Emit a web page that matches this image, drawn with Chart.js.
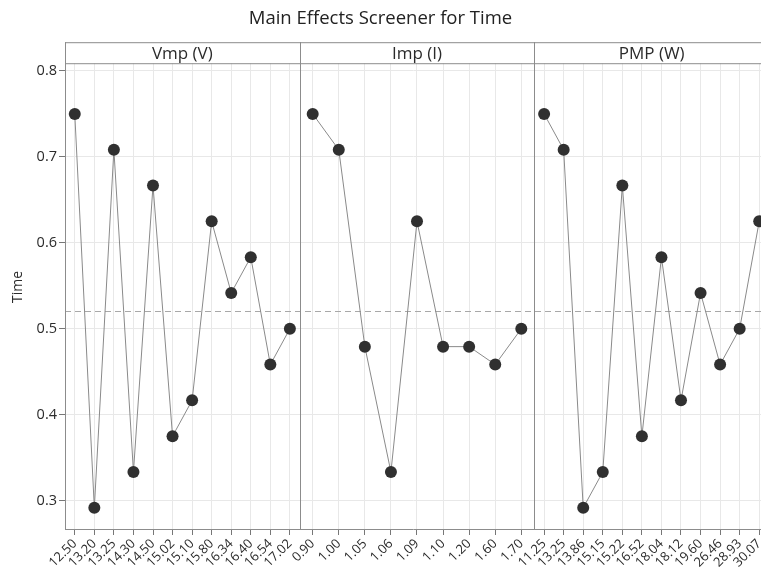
<!DOCTYPE html>
<html>
<head>
<meta charset="utf-8">
<script src="https://cdn.jsdelivr.net/npm/chart.js@4/dist/chart.umd.min.js"></script>
<style>
  html,body{margin:0;padding:0;background:#fff;overflow:hidden;}
  #wrap{width:761px;height:574px;position:relative;}
  #c{display:block;}
</style>
</head>
<body>
<div id="wrap"><canvas id="c" width="761" height="574"></canvas></div>
<script>
// panel factors and their levels
const panelTitles = ['Vmp (V)', 'Imp (I)', 'PMP (W)'];
const vmpLevels = ['12.50','13.20','13.25','14.30','14.50','15.02','15.10','15.80','16.34','16.40','16.54','17.02'];
const vmpMeans  = [0.7500,0.2917,0.7083,0.3333,0.6667,0.3750,0.4167,0.6250,0.5417,0.5833,0.4583,0.5000];
const impLevels = ['0.90','1.00','1.05','1.06','1.09','1.10','1.20','1.60','1.70'];
const impMeans  = [0.7500,0.7083,0.4792,0.3333,0.6250,0.4792,0.4792,0.4583,0.5000];
const pmpLevels = ['11.25','13.25','13.86','15.15','15.22','16.52','18.04','18.12','19.60','26.46','28.93','30.07'];
const pmpMeans  = [0.7500,0.7083,0.2917,0.3333,0.6667,0.3750,0.5833,0.4167,0.5417,0.4583,0.5000,0.6250];
const grandMean = 0.5208;
const yTicks = [0.3,0.4,0.5,0.6,0.7,0.8];

const FONT = '"Open Sans", "Noto Sans", sans-serif';
const frameCol = '#8c8c8c', gridCol = '#e8e8e8', txt = '#2b2b2b';

function ds(means, axis){
  return {data: means, xAxisID: axis, borderColor:'#8a8a8a', borderWidth:1,
    pointRadius:6, pointBackgroundColor:'#303030', pointBorderColor:'#303030', pointBorderWidth:0, tension:0};
}
function xAxis(labels){
  return {type:'category', labels, position:'bottom', stack:'x', stackWeight:1, offset:true,
    grid:{color:gridCol, offset:false, drawTicks:true, tickLength:6, tickColor:'#777'},
    border:{display:false},
    ticks:{autoSkip:false, maxRotation:45, minRotation:45, color:txt, padding:1, font:{family:FONT,size:13}},
    afterFit(s){ s.height = 45; s.paddingLeft = 0; s.paddingRight = 0; }
  };
}

const panels = {
  id:'panels',
  // the plot runs a little past the right edge of the window, as in the source
  afterLayout(chart){
    const a = chart.chartArea;
    a.right = 769; a.width = a.right - a.left;
    const w = a.width / 3;
    ['x1','x2','x3'].forEach((id,i)=>{
      const s = chart.scales[id];
      s.left = a.left + i*w; s.right = s.left + w; s.width = w;
      s.configure();
    });
  },
  beforeDatasetsDraw(chart){
    const {ctx, chartArea:a, scales:{y}} = chart;
    const yy = y.getPixelForValue(grandMean);
    ctx.save();
    ctx.strokeStyle = '#a8a8a8'; ctx.lineWidth = 1; ctx.setLineDash([6,4]);
    ctx.beginPath(); ctx.moveTo(a.left, Math.round(yy)+0.5); ctx.lineTo(a.right, Math.round(yy)+0.5); ctx.stroke();
    ctx.restore();
  },
  afterDraw(chart){
    const {ctx, chartArea:a} = chart;
    const top = a.top - 21;
    ctx.save();
    ctx.strokeStyle = frameCol; ctx.lineWidth = 1;
    ['x1','x2','x3'].forEach((id,i)=>{
      const s = chart.scales[id];
      const l = Math.round(s.left)+0.5, r = Math.round(s.right)+0.5;
      ctx.strokeRect(l, top+0.5, r-l, a.top-top);
      ctx.beginPath(); ctx.moveTo(l, top); ctx.lineTo(l, a.bottom); ctx.stroke();
      ctx.fillStyle = txt; ctx.font = '17px ' + FONT; ctx.textAlign = 'center'; ctx.textBaseline = 'middle';
      ctx.fillText(panelTitles[i], (s.left+s.right)/2, top + 12);
    });
    ctx.beginPath(); ctx.moveTo(a.left, Math.round(a.bottom)+0.5); ctx.lineTo(a.right, Math.round(a.bottom)+0.5); ctx.stroke();
    // y axis title
    ctx.translate(18, 287); ctx.rotate(-Math.PI/2);
    ctx.fillStyle = txt; ctx.font = '14px ' + FONT; ctx.textAlign = 'center'; ctx.textBaseline = 'middle';
    ctx.fillText('Time', 0, 0);
    ctx.restore();
  }
};

new Chart(document.getElementById('c'), {
  type:'line',
  data:{datasets:[ds(vmpMeans,'x1'), ds(impMeans,'x2'), ds(pmpMeans,'x3')]},
  options:{
    responsive:false, animation:false,
    layout:{padding:{left:0,right:0,top:0,bottom:0}},
    plugins:{
      legend:{display:false}, tooltip:{enabled:false},
      title:{display:true, text:'Main Effects Screener for Time', color:'#222',
        font:{family:FONT, size:18.5, weight:'normal'}, padding:{top:8, bottom:33}}
    },
    scales:{
      x1:xAxis(vmpLevels), x2:xAxis(impLevels), x3:xAxis(pmpLevels),
      y:{type:'linear', min:0.267, max:0.809,
        afterBuildTicks(s){ s.ticks = yTicks.map(v=>({value:v})); },
        afterFit(s){ s.width = 65; },
        grid:{color:gridCol, tickLength:6, tickColor:'#777'},
        border:{display:false},
        ticks:{color:txt, padding:2, font:{family:FONT,size:14.5}, callback:v=>v.toFixed(1)}
      }
    }
  },
  plugins:[panels]
});
</script>
</body>
</html>
